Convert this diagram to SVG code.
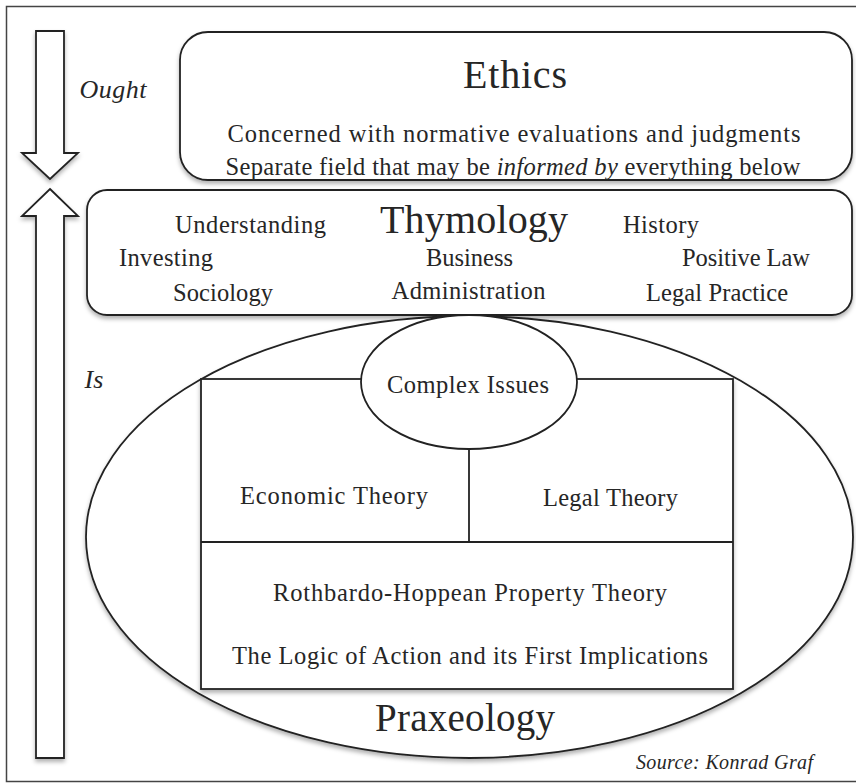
<svg xmlns="http://www.w3.org/2000/svg" width="856" height="783" viewBox="0 0 856 783">
<defs>
<filter id="sh" x="-10%" y="-10%" width="120%" height="130%">
<feDropShadow dx="0" dy="3" stdDeviation="2" flood-color="#000" flood-opacity="0.3"/>
</filter>
<style>
.ln{fill:#fff;stroke:#222;stroke-width:1.8}
.nf{fill:none;stroke:#222;stroke-width:1.8}
text{font-family:"Liberation Serif","Times New Roman",serif;fill:#262626;text-anchor:middle}
.it{font-style:italic}
.t25{font-size:24.5px}
.big{font-size:40px}
</style>
</defs>
<rect x="0" y="0" width="856" height="783" fill="#fff"/>
<g id="frame">
<rect x="6.5" y="6.5" width="870" height="775" fill="none" stroke="#444" stroke-width="1.5"/>
</g>
<g id="connectors">
<path class="ln" filter="url(#sh)" d="M36,31 H64 V153 H78 L50,179 L22,153 H36 Z"/>
<path class="ln" filter="url(#sh)" d="M50,189 L78,216 H64 V758 H36 V216 H22 Z"/>
</g>
<g id="labels">
<text class="it" x="113" y="98" font-size="26" textLength="67">Ought</text>
<text class="it" x="94" y="388" font-size="26">Is</text>
</g>
<g id="ethics">
<rect class="ln" filter="url(#sh)" x="180" y="32" width="672" height="148" rx="28"/>
<text x="515" y="88" font-size="40" textLength="104">Ethics</text>
<text x="514" y="142" font-size="24.5" textLength="573">Concerned with normative evaluations and judgments</text>
<text x="513" y="175" font-size="24.5" textLength="575">Separate field that may be <tspan class="it">informed by</tspan> everything below</text>
</g>
<g id="thymology">
<rect class="ln" filter="url(#sh)" x="87" y="190" width="765" height="125" rx="20"/>
<text class="big" x="474" y="233" textLength="188">Thymology</text>
<text class="t25" x="250.5" y="233" textLength="151">Understanding</text>
<text class="t25" x="661" y="233" textLength="76">History</text>
<text class="t25" x="166" y="266" textLength="94">Investing</text>
<text class="t25" x="469.5" y="266" textLength="87">Business</text>
<text class="t25" x="746" y="266" textLength="128">Positive Law</text>
<text class="t25" x="223" y="301" textLength="100">Sociology</text>
<text class="t25" x="468.5" y="299" textLength="154">Administration</text>
<text class="t25" x="717" y="301" textLength="142">Legal Practice</text>
</g>
<g id="praxeology">
<ellipse class="ln" filter="url(#sh)" cx="469.5" cy="537" rx="383.5" ry="221"/>
<text x="465" y="731" font-size="39" textLength="180">Praxeology</text>
</g>
<g id="theory-block">
<rect class="ln" filter="url(#sh)" x="201" y="379" width="532" height="310"/>
<line class="nf" x1="201" y1="542" x2="733" y2="542"/>
<line class="nf" x1="469" y1="440" x2="469" y2="542"/>
<text class="t25" x="334" y="504" textLength="188">Economic Theory</text>
<text class="t25" x="610.5" y="506" textLength="135">Legal Theory</text>
<text class="t25" x="470" y="601" textLength="394">Rothbardo-Hoppean Property Theory</text>
<text class="t25" x="470" y="664" textLength="476">The Logic of Action and its First Implications</text>
</g>
<g id="complex-issues">
<ellipse class="ln" cx="469" cy="382" rx="108" ry="67"/>
<text class="t25" x="468" y="393" textLength="162">Complex Issues</text>
</g>
<g id="source">
<text class="it" x="724.5" y="769" font-size="20" textLength="177">Source: Konrad Graf</text>
</g>
</svg>
